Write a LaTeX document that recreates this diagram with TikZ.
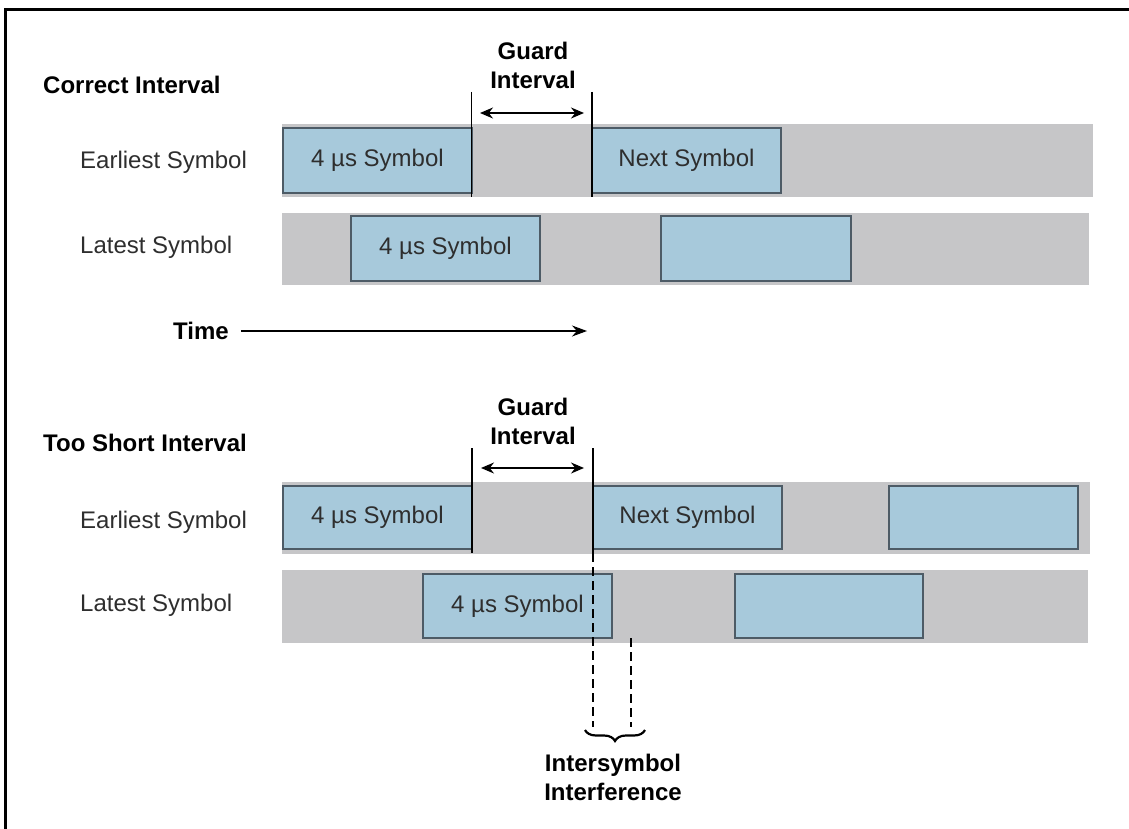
\documentclass[tikz,border=0pt]{standalone}
\usepackage{fontspec}
\setmainfont{Liberation Sans}
\usetikzlibrary{arrows.meta,decorations.pathreplacing}
\definecolor{bandgray}{HTML}{C6C6C8}
\definecolor{symblue}{HTML}{A7C9DB}
\definecolor{symedge}{HTML}{4D5B66}
\definecolor{txt}{HTML}{2E2E2E}
\tikzset{
  band/.style={fill=bandgray, draw=none, inner sep=0pt, outer sep=0pt},
  symbox/.style={fill=symblue, draw=symedge, line width=1.6pt, inner sep=0pt, outer sep=0pt, text=txt, font=\fontsize{24}{28}\selectfont},
  rowlabel/.style={anchor=west, inner sep=0pt, text=txt, font=\fontsize{24}{28}\selectfont},
  headlabel/.style={anchor=west, inner sep=0pt, text=black, font=\fontsize{24}{28}\selectfont\bfseries},
  guardtext/.style={align=center, inner sep=0pt, text=black, font=\fontsize{24}{29}\selectfont\bfseries},
  guardline/.style={line width=1.6pt, black},
  dblarrow/.style={line width=1.2pt, {Stealth[length=13pt,width=11pt]}-{Stealth[length=13pt,width=11pt]}},
  timearrow/.style={line width=1.2pt, -{Stealth[length=15pt,width=11pt]}},
  isi/.style={line width=1.8pt, dash pattern=on 9pt off 5pt},
}
\begin{document}
\begin{tikzpicture}[x=1pt,y=-1pt]
\useasboundingbox (0,0) rectangle (1129,829);
\fill[white] (0,0) rectangle (1129,829);
% frame (top and left)
\draw[line width=3pt] (4,10) -- (1129,10);
\draw[line width=3pt] (5,10) -- (5,829);

% ---------- Correct Interval ----------
\node[headlabel] (hc) at (43,85) {Correct Interval};
\node[guardtext] (gt1) at (533,65) {Guard\\Interval};
\node[rowlabel] (le1) at (80,162) {Earliest Symbol};
\node[rowlabel] (ll1) at (80,247) {Latest Symbol};

\node[band, minimum width=811pt, minimum height=73pt] (be1) at (687.5,160.5) {};
\node[band, minimum width=807pt, minimum height=72pt] (bl1) at (685.5,249) {};

\node[symbox, minimum width=189pt, minimum height=65pt] (e1a) at (377.5,160.5) {4 µs Symbol};
\node[symbox, minimum width=189pt, minimum height=65pt] (e1b) at (686.5,160.5) {Next Symbol};
\node[symbox, minimum width=189pt, minimum height=65pt] (l1a) at (445.5,248.5) {4 µs Symbol};
\node[symbox, minimum width=190pt, minimum height=65pt] (l1b) at (756,248.5) {};

\coordinate (g1at) at (471.5,92);  \coordinate (g1ab) at (471.5,197);
\coordinate (g1bt) at (592,92);    \coordinate (g1bb) at (592,197);
\draw[guardline] (g1at) -- (g1ab);
\draw[guardline] (g1bt) -- (g1bb);
\coordinate (a1l) at (480,113); \coordinate (a1r) at (584,113);
\draw[dblarrow] (a1l) -- (a1r);

% ---------- Time ----------
\node[inner sep=0pt, text=black, font=\fontsize{24}{28}\selectfont\bfseries] (time) at (201,331) {Time};
\coordinate (tend) at (587,331);
\draw[timearrow] ([xshift=12pt]time.east) -- (tend);

% ---------- Too Short Interval ----------
\node[headlabel] (hs) at (43,443) {Too Short Interval};
\node[guardtext] (gt2) at (533,421) {Guard\\Interval};
\node[rowlabel] (le2) at (80,522) {Earliest Symbol};
\node[rowlabel] (ll2) at (80,605) {Latest Symbol};

\node[band, minimum width=808pt, minimum height=72pt] (be2) at (686,518) {};
\node[band, minimum width=806pt, minimum height=73pt] (bl2) at (685,606.5) {};

\node[symbox, minimum width=189pt, minimum height=63pt] (e2a) at (377.5,517.5) {4 µs Symbol};
\node[symbox, minimum width=189pt, minimum height=63pt] (e2b) at (687.5,517.5) {Next Symbol};
\node[symbox, minimum width=189pt, minimum height=63pt] (e2c) at (983.5,517.5) {};
\node[symbox, minimum width=189pt, minimum height=64pt] (l2a) at (517.5,606) {4 µs Symbol};
\node[symbox, minimum width=188pt, minimum height=64pt] (l2b) at (829,606) {};

\coordinate (g2at) at (472,448);  \coordinate (g2ab) at (472,553);
\coordinate (g2bt) at (593,448);  \coordinate (g2bb) at (593,553);
\draw[guardline] (g2at) -- (g2ab);
\draw[guardline] (g2bt) -- (g2bb);
\coordinate (a2l) at (481,468); \coordinate (a2r) at (584,468);
\draw[dblarrow] (a2l) -- (a2r);

% intersymbol interference
\coordinate (d1b) at (593,727);
\coordinate (d2t) at (631,638); \coordinate (d2b) at (631,727);
\draw[isi] (g2bb) -- (d1b);
\draw[isi] (d2t) -- (d2b);
\coordinate (brl) at (585,730); \coordinate (brr) at (645,730);
\draw[line width=2.2pt, decorate, decoration={brace, mirror, amplitude=11pt}] (brl) -- (brr);
\node[guardtext] (isit) at (613,777) {Intersymbol\\Interference};
\end{tikzpicture}
\end{document}
